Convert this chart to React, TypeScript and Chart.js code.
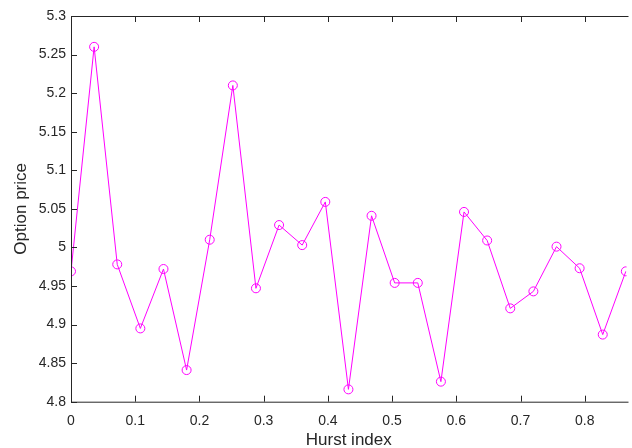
import React, { useEffect, useRef } from "react";
import { Chart, registerables } from "chart.js";

Chart.register(...registerables);

const hurstIndex: number[] = [
  0, 0.036, 0.072, 0.108, 0.144, 0.18, 0.216, 0.252, 0.288, 0.324, 0.36, 0.396,
  0.432, 0.468, 0.504, 0.54, 0.576, 0.612, 0.648, 0.684, 0.72, 0.756, 0.792, 0.828, 0.864,
];
const optionPrice: number[] = [
  4.969, 5.26, 4.978, 4.895, 4.972, 4.841, 5.01, 5.21, 4.947, 5.029, 5.003, 5.059,
  4.816, 5.041, 4.954, 4.954, 4.826, 5.046, 5.009, 4.921, 4.943, 5.001, 4.973, 4.887, 4.969,
];
const xTicks: number[] = [0, 0.1, 0.2, 0.3, 0.4, 0.5, 0.6, 0.7, 0.8];
const yTicks: number[] = [4.8, 4.85, 4.9, 4.95, 5, 5.05, 5.1, 5.15, 5.2, 5.25, 5.3];

const AXIS = "#262626";
const FONT = "'Liberation Sans', Arial, Helvetica, sans-serif";

const axesPlugin = {
  id: "matlabAxes",
  afterDatasetsDraw(chart: any) {
    const { ctx, chartArea } = chart;
    const { left, right, top, bottom } = chartArea;
    const xs = chart.scales.x;
    const ys = chart.scales.y;
    const tl = 6;
    ctx.save();
    ctx.strokeStyle = AXIS;
    ctx.lineWidth = 1;
    ctx.beginPath();
    ctx.moveTo(right + 2, top + 0.5);
    ctx.lineTo(left + 0.5, top + 0.5);
    ctx.lineTo(left + 0.5, bottom + 0.5);
    ctx.lineTo(right + 2, bottom + 0.5);
    xTicks.forEach((v) => {
      const px = Math.round(xs.getPixelForValue(v)) + 0.5;
      ctx.moveTo(px, bottom);
      ctx.lineTo(px, bottom - tl);
      ctx.moveTo(px, top);
      ctx.lineTo(px, top + tl);
    });
    yTicks.forEach((v) => {
      const py = Math.round(ys.getPixelForValue(v)) + 0.5;
      ctx.moveTo(left, py);
      ctx.lineTo(left + tl, py);
    });
    ctx.stroke();
    ctx.restore();
  },
};

export default function App() {
  const ref = useRef<HTMLCanvasElement | null>(null);
  useEffect(() => {
    if (!ref.current) return;
    const chart = new Chart(ref.current, {
      type: "scatter",
      data: {
        datasets: [
          {
            data: hurstIndex.map((x, i) => ({ x, y: optionPrice[i] })),
            showLine: true,
            borderColor: "#ff00ff",
            borderWidth: 1,
            pointRadius: 4.5,
            pointBorderWidth: 1,
            pointBorderColor: "#ff00ff",
            pointBackgroundColor: "rgba(0,0,0,0)",
            pointStyle: "circle",
          },
        ],
      },
      options: {
        animation: false,
        responsive: false,
        maintainAspectRatio: false,
        layout: { padding: { top: 16, right: 0, left: 0, bottom: 0 } },
        plugins: { legend: { display: false }, tooltip: { enabled: false } },
        scales: {
          x: {
            type: "linear",
            min: 0,
            max: 0.865,
            afterBuildTicks: (s: any) => {
              s.ticks = xTicks.map((v) => ({ value: v }));
            },
            afterFit: (s: any) => {
              s.height = 46.3;
            },
            grid: { display: false, drawTicks: false },
            border: { display: false },
            ticks: {
              color: AXIS,
              font: { family: FONT, size: 14 },
              padding: 11,
              maxRotation: 0,
              autoSkip: false,
              callback: (v: any) => String(Math.round(Number(v) * 10) / 10),
            },
            title: {
              display: true,
              text: "Hurst index",
              color: AXIS,
              font: { family: FONT, size: 17 },
              padding: { top: 0, bottom: -3 },
            },
          },
          y: {
            type: "linear",
            min: 4.8,
            max: 5.3,
            afterBuildTicks: (s: any) => {
              s.ticks = yTicks.map((v) => ({ value: v }));
            },
            afterFit: (s: any) => {
              s.width = 71;
            },
            grid: { display: false, drawTicks: false },
            border: { display: false },
            ticks: {
              color: AXIS,
              font: { family: FONT, size: 14 },
              padding: 5,
              autoSkip: false,
              callback: (v: any) => String(Math.round(Number(v) * 100) / 100),
            },
            title: {
              display: true,
              text: "Option price",
              color: AXIS,
              font: { family: FONT, size: 17 },
              padding: { top: 11, bottom: 0 },
            },
          },
        },
      },
      plugins: [axesPlugin],
    });
    return () => chart.destroy();
  }, []);
  return (
    <div style={{ position: "fixed", left: 0, top: 0, width: 632, height: 448, background: "#fff" }}>
      <canvas ref={ref} width={632} height={448} style={{ display: "block" }} />
    </div>
  );
}
